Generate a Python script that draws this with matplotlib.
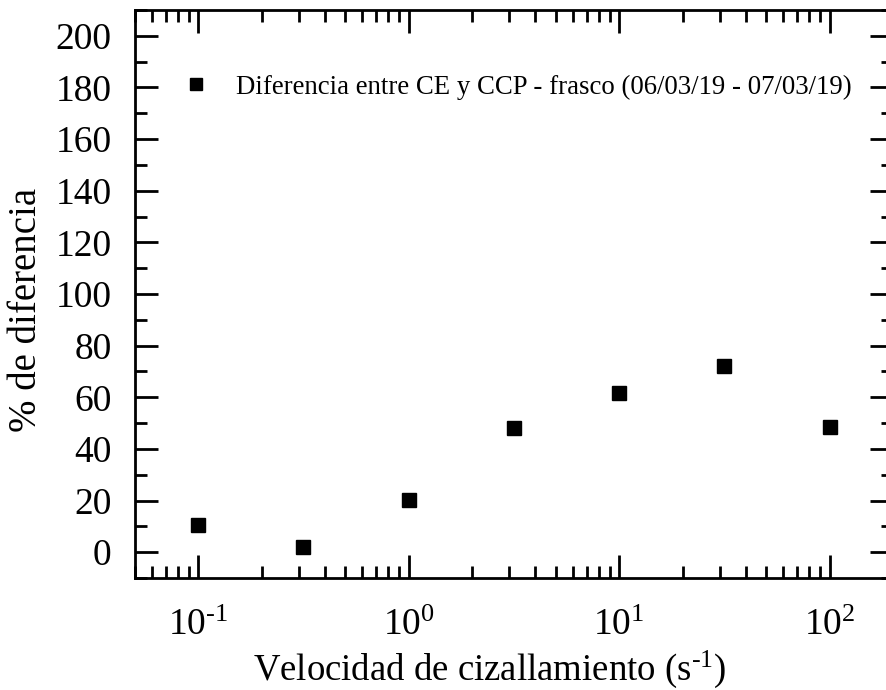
import matplotlib
matplotlib.use("Agg")
import matplotlib.pyplot as plt
from matplotlib.ticker import FixedLocator, FixedFormatter, MultipleLocator, LogLocator, NullFormatter

plt.rcParams['font.family'] = ['Liberation Serif', 'DejaVu Serif']
plt.rcParams['mathtext.fontset'] = 'custom'
plt.rcParams['mathtext.rm'] = 'Liberation Serif'
plt.rcParams['mathtext.it'] = 'Liberation Serif'

shear_rate = [0.1, 0.316, 1.0, 3.16, 10.0, 31.6, 100.0]
pct_diff = [10.7, 2.1, 20.2, 48.0, 61.6, 72.1, 48.4]
series_label = "Diferencia entre CE y CCP - frasco (06/03/19 - 07/03/19)"
xtick_vals = [0.1, 1, 10, 100]
xtick_labels = [r"$10^{\text{-}1}$", "$10^{0}$", "$10^{1}$", "$10^{2}$"]

fig = plt.figure(figsize=(8.86, 6.9), dpi=100)
ax = fig.add_axes([135/886, (690-578)/690, (893-135)/886, (578-10)/690])

ax.plot(shear_rate, pct_diff, linestyle='none', marker='s', markersize=9.5,
        color='black', label=series_label)

ax.set_xscale('log')
ax.set_xlim(0.05, 200)
ax.set_ylim(-10, 210)

ax.xaxis.set_major_locator(FixedLocator(xtick_vals))
ax.xaxis.set_major_formatter(FixedFormatter(xtick_labels))
ax.xaxis.set_minor_locator(LogLocator(base=10, subs=range(2, 10), numticks=20))
ax.xaxis.set_minor_formatter(NullFormatter())
ax.set_yticks(range(0, 201, 20))
ax.yaxis.set_minor_locator(MultipleLocator(10))

for s in ax.spines.values():
    s.set_linewidth(2)

ax.tick_params(which='both', direction='in', top=True, right=True, width=2, labelsize=27)
ax.tick_params(which='major', length=16.5)
ax.tick_params(which='minor', length=8.5)
ax.tick_params(axis='x', which='major', pad=22)
ax.tick_params(axis='y', which='major', pad=17)

ax.set_xlabel(r"Velocidad de cizallamiento (s$^{\text{-}1}$)", fontsize=26.5)
ax.set_ylabel("% de diferencia", fontsize=28)
ax.xaxis.set_label_coords(0.468, -0.125)
ax.yaxis.set_label_coords(-0.119, 0.472)

leg = ax.legend(loc='center left', bbox_to_anchor=(0.063, 0.864), frameon=False,
                fontsize=19.3, handlelength=1.0, handletextpad=1.0,
                markerscale=0.85, borderaxespad=0, borderpad=0)

fig.savefig("out.png", dpi=100)
